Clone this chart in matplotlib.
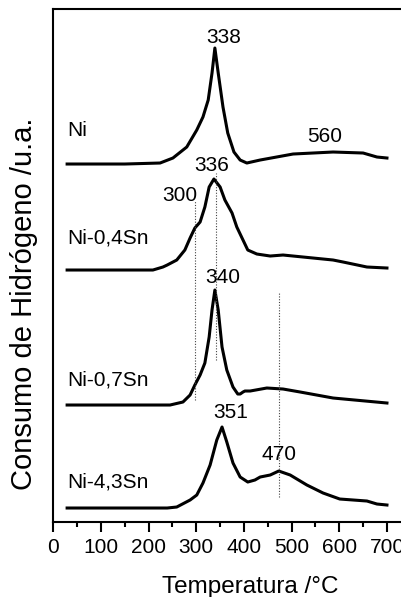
import matplotlib
matplotlib.use('Agg')
import matplotlib.pyplot as plt

plt.rcParams['font.family'] = ['Liberation Sans', 'DejaVu Sans']

# TPR curves (temperature in C, signal above own baseline)
ni_T = [29, 150, 224, 251, 280, 301, 314, 325, 333, 339, 346, 356, 366, 379, 392, 406, 434, 503, 587, 650, 679, 700]
ni_y = [0, 0, 1, 6, 17, 34, 47, 64, 91, 116, 91, 57, 31, 12, 4, 1, 4, 10, 12, 11, 7, 6]

sn04_T = [29, 209, 230, 239, 259, 276, 287, 297, 308, 318, 327, 337, 350, 360, 375, 385, 398, 408, 427, 455, 482, 587, 608, 658, 700]
sn04_y = [0, 0, 3, 5, 10, 20, 32, 42, 48, 63, 83, 91, 83, 70, 57, 43, 30, 20, 16, 14, 15, 10, 8, 3, 2]

sn07_T = [29, 230, 245, 272, 287, 297, 308, 318, 327, 333, 339, 346, 354, 364, 377, 387, 392, 398, 402, 413, 448, 482, 518, 587, 700]
sn07_y = [0, 0, 0, 3, 10, 20, 30, 42, 68, 95, 115, 95, 58, 35, 18, 11, 11, 13, 14, 14, 17, 16, 13, 7, 2]

sn43_T = [29, 239, 259, 287, 301, 314, 329, 343, 354, 364, 377, 392, 408, 423, 434, 455, 473, 497, 532, 566, 601, 658, 679, 700]
sn43_y = [0, 0, 1, 8, 13, 25, 43, 68, 81, 66, 45, 31, 26, 28, 31, 33, 37, 33, 23, 15, 9, 7, 4, 3]

names = ['Ni', 'Ni-0,4Sn', 'Ni-0,7Sn', 'Ni-4,3Sn']
offsets = [358, 252, 117, 14]
name_y = [386, 279, 137, 35]

# peak annotations: (text, T, baseline y)
peak_text = ['338', '560', '336', '300', '340', '351', '470']
peak_x = [358, 570, 333, 266, 356, 373, 474]
peak_y = [479, 380, 351, 321, 239, 104, 62]

# dotted guide lines: T, y from, y to
guide_T = [297, 341, 473]
guide_lo = [122, 162, 25]
guide_hi = [322, 349, 229]

fig = plt.figure(figsize=(4.01, 5.97), dpi=100)
ax = fig.add_axes([0.1329, 0.1256, 0.8915, 0.8593])

curves = [(ni_T, ni_y), (sn04_T, sn04_y), (sn07_T, sn07_y), (sn43_T, sn43_y)]
for (T, y), off in zip(curves, offsets):
    ax.plot(T, [v + off for v in y], color='black', linewidth=2.2, solid_joinstyle='round')

for t, lo, hi in zip(guide_T, guide_lo, guide_hi):
    ax.plot([t, t], [lo, hi], color='#444444', linewidth=0.8, linestyle=(0, (1, 1.5)))

for name, yy in zip(names, name_y):
    ax.text(29, yy, name, fontsize=15, ha='left', va='baseline')

for s, x, y in zip(peak_text, peak_x, peak_y):
    ax.text(x, y, s, fontsize=15, ha='center', va='baseline')

ax.set_xlim(0, 750)
ax.set_ylim(0, 513)
ax.set_xticks(range(0, 701, 100))
ax.set_xticks(range(50, 701, 100), minor=True)
ax.set_yticks([])
ax.tick_params(axis='x', which='major', direction='out', length=7.2, width=1.5, labelsize=15, pad=4)
ax.tick_params(axis='x', which='minor', direction='out', length=3.6, width=1.5)
for sp in ax.spines.values():
    sp.set_linewidth(1.5)

ax.set_xlabel('Temperatura /°C', fontsize=17.5)
ax.xaxis.set_label_coords(0.550, -0.138)
ax.xaxis.label.set_va('baseline')
ax.set_ylabel('Consumo de Hidrógeno /u.a.', fontsize=21)
ax.yaxis.set_label_coords(-0.082, 0.425)
ax.yaxis.label.set_va('center')

plt.savefig('out.png', dpi=100)
